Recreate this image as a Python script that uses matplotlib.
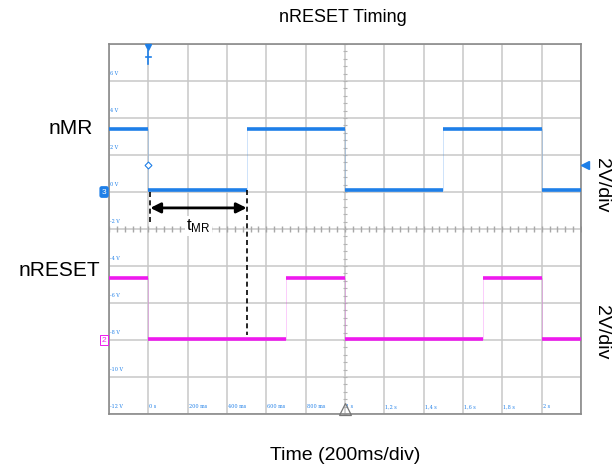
import numpy as np
import matplotlib.pyplot as plt

plt.rcParams['font.family'] = ['Liberation Sans', 'DejaVu Sans']
plt.rcParams['mathtext.default'] = 'regular'

################################################################################################

# scope screen: 12 time divisions of 200 ms, 10 voltage divisions of 2 V
x_grid = np.arange(-0.2, 2.21, 0.2)
y_grid = np.arange(-12, 8.1, 2)

volt_labels = ['-12 V', '-10 V', '-8 V', '-6 V', '-4 V', '-2 V', '0 V', '2 V', '4 V', '6 V']
volt_pos = [-12, -10, -8, -6, -4, -2, 0, 2, 4, 6]
time_labels = ['0 s', '200 ms', '400 ms', '600 ms', '800 ms', '1 s', '1,2 s', '1,4 s', '1,6 s', '1,8 s', '2 s']
time_pos = [0, 0.2, 0.4, 0.6, 0.8, 1.0, 1.2, 1.4, 1.6, 1.8, 2.0]

# nMR (channel 3, offset 0 V)
mr_t = [-0.2, 0.0, 0.5, 1.0, 1.5, 2.0, 2.2]
mr_v = [3.4, 0.1, 3.4, 0.1, 3.4, 0.1]
mr_offset = 0.0

# nRESET (channel 2, offset -8 V)
rst_t = [-0.2, 0.0, 0.7, 1.0, 1.7, 2.0, 2.2]
rst_v = [3.35, 0.05, 3.35, 0.05, 3.35, 0.05]
rst_offset = -8.0

trig_level = 1.45
t_mr = (0.01, 0.5)

blue = '#1e7fe8'
magenta = '#ee1aee'

################################################################################################

fig = plt.figure(figsize=(6.15, 4.69), dpi=100)
ax = fig.add_axes([109/615, 55/469, 472/615, 370/469])
ax.set_xlim(-0.2, 2.2)
ax.set_ylim(-12, 8)
ax.set_xticks(x_grid)
ax.set_yticks(y_grid)
ax.tick_params(length=0, labelbottom=False, labelleft=False)
ax.grid(True, color='#c8c8c8', lw=1.1)
for s in ax.spines.values():
    s.set_color('#8a8a8a')
    s.set_linewidth(1.2)

# minor ticks on the centre lines
mt = np.arange(-0.2, 2.21, 0.04)
ax.plot(mt, np.full_like(mt, -2), '|', color='#a8a8a8', ms=4, mew=1)
mv = np.arange(-12, 8.01, 0.4)
ax.plot(np.full_like(mv, 1.0), mv, '_', color='#b4b4b4', ms=3, mew=0.8)

# on-screen labels
for v, lab in zip(volt_pos, volt_labels):
    ax.text(-0.195, v + 0.25, lab, color=blue, fontsize=3.5, va='bottom', ha='left',
            family='DejaVu Serif')
for t, lab in zip(time_pos, time_labels):
    ax.text(t + 0.005, -11.75, lab, color=blue, fontsize=3.5, va='bottom', ha='left',
            family='DejaVu Serif')

def draw_trace(times, levels, offset, color):
    for i in range(len(levels)):
        ax.plot([times[i], times[i+1]], [levels[i] + offset]*2, color=color, lw=2.6,
                solid_capstyle='butt', zorder=3)
    for i in range(1, len(levels)):
        ax.plot([times[i]]*2, [levels[i-1] + offset, levels[i] + offset], color=color,
                lw=0.5, alpha=0.3, zorder=3)

draw_trace(mr_t, mr_v, mr_offset, blue)
draw_trace(rst_t, rst_v, rst_offset, magenta)

# trigger markers
ax.plot(0, 7.85, 'v', color=blue, ms=4, clip_on=False, zorder=5)
ax.plot([0, 0], [7.6, 6.9], color=blue, lw=1.2, zorder=5)
ax.plot([-0.012, 0.012], [7.3, 7.3], color=blue, lw=1.2, zorder=5)
ax.plot(0, trig_level, 'D', mfc='white', mec=blue, ms=3.5, mew=0.8, zorder=5)
ax.plot(2.22, trig_level, '<', color=blue, ms=6, clip_on=False, zorder=5)
ax.plot(1.0, -11.75, '^', mfc='none', mec='#777777', ms=9, mew=0.9, clip_on=False, zorder=5)

# channel markers on the left edge
ax.text(-0.225, 0, '3', color='white', fontsize=6, ha='center', va='center',
        bbox=dict(boxstyle='round,pad=0.2', fc=blue, ec=blue))
ax.text(-0.225, -8, '2', color=magenta, fontsize=6, ha='center', va='center',
        bbox=dict(boxstyle='square,pad=0.2', fc='white', ec=magenta, lw=0.7))

# tMR annotation
ax.plot([t_mr[0]]*2, [0, -1.6], 'k--', lw=1.2, dashes=(3, 2), zorder=4)
ax.plot([t_mr[1]]*2, [0.1, -7.75], 'k--', lw=1.2, dashes=(3, 2), zorder=4)
ax.annotate('', xy=(t_mr[0], -0.86), xytext=(t_mr[1], -0.86),
            arrowprops=dict(arrowstyle='<|-|>', color='black', lw=2, mutation_scale=15,
                            shrinkA=0, shrinkB=0), zorder=4)
ax.text(sum(t_mr)/2, -1.85, '$t_{MR}$', fontsize=12, ha='center', va='center',
        bbox=dict(fc='white', ec='none', pad=1), zorder=4)

# outer labels
fig.text(343/615, 1 - 17/469, 'nRESET Timing', fontsize=13, ha='center', va='center')
fig.text(345/615, 1 - 455/469, 'Time (200ms/div)', fontsize=14, ha='center', va='center')
fig.text(71/615, 1 - 128/469, 'nMR', fontsize=15, ha='center', va='center')
fig.text(59/615, 1 - 271/469, 'nRESET', fontsize=15, ha='center', va='center')
fig.text(602/615, 1 - 185/469, '2V/div', fontsize=14, ha='center', va='center', rotation=270)
fig.text(602/615, 1 - 332/469, '2V/div', fontsize=14, ha='center', va='center', rotation=270)

fig.savefig('out.png', dpi=100)
